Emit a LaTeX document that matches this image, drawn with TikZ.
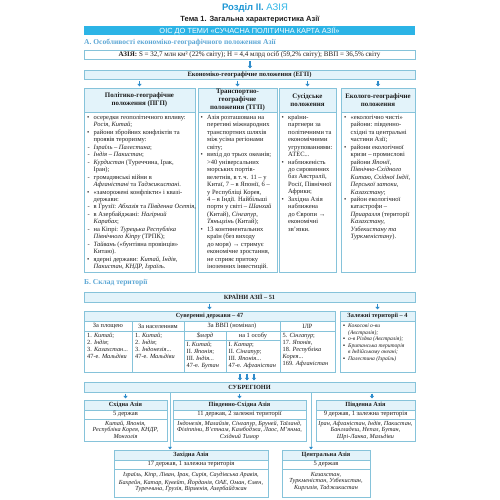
\documentclass[tikz,border=0pt]{standalone}
\usepackage{fontspec}
\setmainfont{Liberation Serif}
\setsansfont{Liberation Sans}
\usetikzlibrary{arrows.meta}
\definecolor{bc}{HTML}{86C3DA}
\definecolor{hf}{HTML}{E3F3FA}
\definecolor{cy}{HTML}{2CB4E6}
\definecolor{rz}{HTML}{1C96D4}
\definecolor{sec}{HTML}{5BA6D4}
\definecolor{ac}{HTML}{2E8CCB}
\definecolor{ink}{HTML}{1E1E1E}
\newcommand\fs[2]{\fontsize{#1}{#2}\selectfont}
\newcommand\bu{\makebox[6.5pt][l]{\textbullet}}
\newcommand\da{\makebox[6.5pt][l]{\hspace{0.5pt}-}}
\newcommand\sq{\makebox[5pt][l]{▪}}
\newcommand\inx{\hspace*{6.5pt}}
\newcommand\iny{\hspace*{5pt}}
\newcommand\rb[7]{\node[#1,minimum width={#5-#3},minimum height={#6-#4}] (#2) at (#3,#4) {#7};}
\begin{document}
\begin{tikzpicture}[x=1pt,y=-1pt,
  bx/.style={draw=bc,line width=0.6pt,fill=white,anchor=north west,inner sep=0pt,outer sep=0pt,align=center,text=ink},
  hb/.style={bx,fill=hf},
  tx/.style={anchor=north west,inner sep=0pt,align=left,text=ink,font=\fs{6.5}{7.45}},
  tb/.style={anchor=north west,inner sep=0pt,align=left,text=ink,font=\fs{6.3}{7.1}},
  ls/.style={anchor=north,inner sep=0pt,align=center,text=ink,font=\itshape\fs{6.2}{6.7}},
  arr/.style={draw=ac,line width=1.1pt,-{Triangle[length=2.6pt,width=4pt]},shorten <=1.5pt,shorten >=1.5pt},
  larr/.style={draw=bc,line width=0.6pt,-{Triangle[length=2.6pt,width=3.5pt,color=ac]},shorten >=0.5pt}
]
\useasboundingbox (0,0) rectangle (500,500);
% ---------- title ----------
\node[font=\sffamily\bfseries\fs{9.5}{10}] (ttl) at (255,8) {\textcolor{rz}{Розділ II.} \textcolor{cy}{\mdseries АЗІЯ}};
\node[font=\sffamily\bfseries\fs{7.5}{9},text=ink] (tema) at (250,19.5) {Тема 1. Загальна характеристика Азії};
\rb{bx,draw=none,fill=cy,text=white,font=\sffamily\fs{7.4}{8}}{cb}{84}{26}{415}{35.5}{ОІС ДО ТЕМИ «СУЧАСНА ПОЛІТИЧНА КАРТА АЗІЇ»}
\node[anchor=west,inner sep=0pt,font=\bfseries\fs{7.5}{8},text=sec] (secA) at (84,43) {А. Особливості економіко-географічного положення Азії};
\rb{bx,font=\fs{7}{8}}{asia}{84}{50}{415}{59.5}{\textbf{АЗІЯ:} S = 32,7 млн км² (22\% світу); Н = 4,4 млрд осіб (59,2\% світу); ВВП = 36,5\% світу}
\rb{hb,font=\bfseries\fs{6.6}{8}}{egp}{84}{70}{415}{79.5}{Економіко-географічне положення (ЕГП)}
\coordinate (a0) at (250,59.5);
\draw[arr] (a0) -- (a0 |- egp.north);
% ---------- four columns ----------
\rb{hb,font=\bfseries\fs{6.9}{7.8}}{h1}{84}{88}{195}{112}{Політико-географічне\\положення (ПГП)}
\rb{hb,font=\bfseries\fs{6.9}{7.8}}{h2}{198}{88}{277}{112}{Транспортно-\\географічне\\положення (ТГП)}
\rb{hb,font=\bfseries\fs{6.9}{7.8}}{h3}{279}{88}{336}{112}{Сусідське\\положення}
\rb{hb,font=\bfseries\fs{6.9}{7.8}}{h4}{341}{88}{415}{112}{Еколого-географічне\\положення}
\foreach \h in {h1,h2,h3,h4}{\draw[arr] (\h.north |- egp.south) -- (\h.north);}
\rb{bx}{b1}{84}{112}{195}{272}{}
\rb{bx}{b2}{198}{112}{277}{272}{}
\rb{bx}{b3}{279}{112}{336}{272}{}
\rb{bx}{b4}{341}{112}{415}{272}{}
\node[tx] (t1) at (87,115) {\bu осередки геополітичного впливу:\\
\inx\textit{Росія, Китай};\\
\bu райони збройних конфліктів та\\
\inx проявів тероризму:\\
\da\textit{Ізраїль – Палестина};\\
\da\textit{Індія – Пакистан};\\
\da\textit{Курдистан} (Туреччина, Ірак,\\
\inx Іран);\\
\da громадянські війни в\\
\inx\textit{Афганістані} та \textit{Таджикистані}.\\
\bu «заморожені конфлікти» і квазі-\\
\inx держави:\\
\da в Грузії: \textit{Абхазія} та \textit{Південна Осетія},\\
\da в Азербайджані: \textit{Нагірний}\\
\inx\textit{Карабах};\\
\da на Кіпрі: \textit{Турецька Республіка}\\
\inx\textit{Північного Кіпру} (ТРПК);\\
\da\textit{Тайвань} («бунтівна провінція»\\
\inx Китаю).\\
\bu ядерні держави: \textit{Китай, Індія,}\\
\inx\textit{Пакистан, КНДР, Ізраїль}.};
\node[tx] (t2) at (200.5,115) {\bu Азія розташована на\\
\inx перетині міжнародних\\
\inx транспортних шляхів\\
\inx між усіма регіонами\\
\inx світу;\\
\bu вихід до трьох океанів;\\
\inx >40 універсальних\\
\inx морських портів-\\
\inx велетнів, в т.\,ч. 11 – у\\
\inx Китаї, 7 – в Японії, 6 –\\
\inx у Республіці Корея,\\
\inx 4 – в Індії. Найбільші\\
\inx порти у світі – \textit{Шанхай}\\
\inx (Китай), \textit{Сінгапур},\\
\inx\textit{Тяньцзінь} (Китай);\\
\bu 13 континентальних\\
\inx країн (без виходу\\
\inx до моря) → стримує\\
\inx економічне зростання,\\
\inx не сприяє притоку\\
\inx іноземних інвестицій.};
\node[tx] (t3) at (281.5,115) {\bu країни-\\
\inx партнери за\\
\inx політичними та\\
\inx економічними\\
\inx угрупованнями:\\
\inx АТЕС...\\
\bu наближеність\\
\inx до сировинних\\
\inx баз Австралії,\\
\inx Росії, Північної\\
\inx Африки;\\
\bu Західна Азія\\
\inx наближена\\
\inx до Європи →\\
\inx економічні\\
\inx зв'язки.};
\node[tx] (t4) at (344,115) {\bu «екологічно чисті»\\
\inx райони: південно-\\
\inx східні та центральні\\
\inx частини Азії;\\
\bu райони екологічної\\
\inx кризи – промислові\\
\inx райони \textit{Японії,}\\
\inx\textit{Північно-Східного}\\
\inx\textit{Китаю, Східної Індії,}\\
\inx\textit{Перської затоки,}\\
\inx\textit{Казахстану};\\
\bu район екологічної\\
\inx катастрофи –\\
\inx\textit{Приаралля} (території\\
\inx\textit{Казахстану,}\\
\inx\textit{Узбекистану та}\\
\inx\textit{Туркменістану}).};
% ---------- section B ----------
\node[anchor=west,inner sep=0pt,font=\bfseries\fs{7.5}{8},text=sec] (secB) at (84,283) {Б. Склад території};
\rb{hb,font=\bfseries\fs{6.3}{8}}{kr}{84}{292}{415}{302}{КРАЇНИ АЗІЇ – 51}
\rb{hb,font=\bfseries\fs{6.3}{8}}{sovh}{84}{311}{335}{321}{Суверенні держави – 47}
\rb{hb,font=\bfseries\fs{6.3}{8}}{deph}{340}{311}{415}{321}{Залежні території – 4}
\draw[arr] (sovh.north |- kr.south) -- (sovh.north);
\draw[arr] (deph.north |- kr.south) -- (deph.north);
\rb{bx,font=\fs{6.4}{7}}{ha}{84}{321}{132}{331}{За площею}
\rb{bx,font=\fs{6.4}{7}}{hp}{132}{321}{184}{331}{За населенням}
\rb{bx,font=\fs{6.4}{7}}{hg}{184}{321}{280}{331}{За ВВП (номінал)}
\rb{bx,font=\fs{6.4}{7}}{hi}{280}{321}{335}{331}{ІЛР}
\rb{bx,font=\itshape\fs{6.4}{7}}{hb1}{184}{331}{226}{340}{\$млрд}
\rb{bx,font=\fs{6.4}{7}}{hb2}{226}{331}{280}{340}{на 1 особу}
\rb{bx}{da}{84}{331}{132}{372}{}
\rb{bx}{dp}{132}{331}{184}{372}{}
\rb{bx}{db}{184}{340}{226}{372}{}
\rb{bx}{dc}{226}{340}{280}{372}{}
\rb{bx}{di}{280}{331}{335}{372}{}
\rb{bx}{dep}{340}{321}{415}{372}{}
\node[tb] (ta) at (87,333) {1. \textit{Китай};\\2. \textit{Індія};\\3. \textit{Казахстан}...\\47-е. \textit{Мальдіви}};
\node[tb] (tp) at (135,333) {1. \textit{Китай};\\2. \textit{Індія};\\3. \textit{Індонезія}...\\47-е. \textit{Мальдіви}};
\node[tb] (tbn) at (186.5,342) {I. \textit{Китай};\\II. \textit{Японія};\\III. \textit{Індія}...\\47-е. \textit{Бутан}};
\node[tb] (tc) at (228.5,342) {I. \textit{Катар};\\II. \textit{Сінгапур};\\III. \textit{Японія}...\\47-е. \textit{Афганістан}};
\node[tb] (ti) at (282.5,333) {5. \textit{Сінгапур};\\17. \textit{Японія},\\18. \textit{Республіка}\\\textit{Корея}...\\169. \textit{Афганістан}};
\node[tb,font=\itshape\fs{5.6}{6.6}] (td) at (343,323.5) {\sq Кокосові о-ви\\\iny(Австралія);\\\sq о-в Різдва (Австралія);\\\sq Британська територія\\\iny в Індійському океані;\\\sq Палестина (Ізраїль)};
% ---------- subregions ----------
\rb{hb,font=\bfseries\fs{6.3}{8}}{sub}{84}{382}{415}{392}{СУБРЕГІОНИ}
\foreach \x/\n in {240/s1,247/s2,254/s3}{\coordinate (\n) at (\x,372); \draw[arr] (\n) -- (\n |- sub.north);}
% East
\rb{hb,font=\bfseries\fs{6.3}{7}}{en}{84}{400}{167}{410}{Східна Азія}
\rb{bx,font=\fs{6.5}{7}}{ec}{84}{410}{167}{419}{5 держав}
\rb{bx}{el}{84}{419}{167}{441}{}
\node[ls] (elt) at ([yshift=-1.5pt]el.north) {Китай, Японія,\\Республіка Корея, КНДР,\\Монголія};
% South-East
\rb{hb,font=\bfseries\fs{6.3}{7}}{sen}{173}{400}{306}{410}{Південно-Східна Азія}
\rb{bx,font=\fs{6.5}{7}}{sec2}{173}{410}{306}{419}{11 держав, 2 залежні території}
\rb{bx}{sel}{173}{419}{306}{441}{}
\node[ls] (selt) at ([yshift=-1.5pt]sel.north) {Індонезія, Малайзія, Сінгапур, Бруней, Таїланд,\\Філіппіни, В'єтнам, Камбоджа, Лаос, М'янма,\\Східний Тимор};
% South
\rb{hb,font=\bfseries\fs{6.3}{7}}{sn}{316}{400}{415}{410}{Південна Азія}
\rb{bx,font=\fs{6.5}{7}}{sc}{316}{410}{415}{419}{9 держав, 1 залежна територія}
\rb{bx}{sl}{316}{419}{415}{441}{}
\node[ls] (slt) at ([yshift=-1.5pt]sl.north) {Іран, Афганістан, Індія, Пакистан,\\Бангладеш, Непал, Бутан,\\Шрі-Ланка, Мальдіви};
% West
\rb{hb,font=\bfseries\fs{6.3}{7}}{wn}{114}{450}{268}{460}{Західна Азія}
\rb{bx,font=\fs{6.5}{7}}{wc}{114}{460}{268}{469}{17 держав, 1 залежна територія}
\rb{bx}{wl}{114}{469}{268}{497}{}
\node[ls] (wlt) at ([yshift=-3pt]wl.north) {Ізраїль, Кіпр, Ліван, Ірак, Сирія, Саудівська Аравія,\\Бахрейн, Катар, Кувейт, Йорданія, ОАЕ, Оман, Ємен,\\Туреччина, Грузія, Вірменія, Азербайджан};
% Central
\rb{hb,font=\bfseries\fs{6.3}{7}}{cn}{282}{450}{370}{460}{Центральна Азія}
\rb{bx,font=\fs{6.5}{7}}{cc}{282}{460}{370}{469}{5 держав}
\rb{bx}{cl}{282}{469}{370}{497}{}
\node[ls] (clt) at ([yshift=-3pt]cl.north) {Казахстан,\\Туркменістан, Узбекистан,\\Киргизія, Таджикистан};
% connectors
\draw[arr] (en.north |- sub.south) -- (en.north);
\draw[arr] (sen.north |- sub.south) -- (sen.north);
\coordinate (p0) at (372,392);
\draw[arr] (p0) -- (p0 |- sn.north);
\coordinate (w0) at (170,392);
\coordinate (c0) at (311,392);
\draw[larr] (w0) -- (w0 |- wn.north);
\draw[larr] (c0) -- (c0 |- cn.north);
\end{tikzpicture}
\end{document}
